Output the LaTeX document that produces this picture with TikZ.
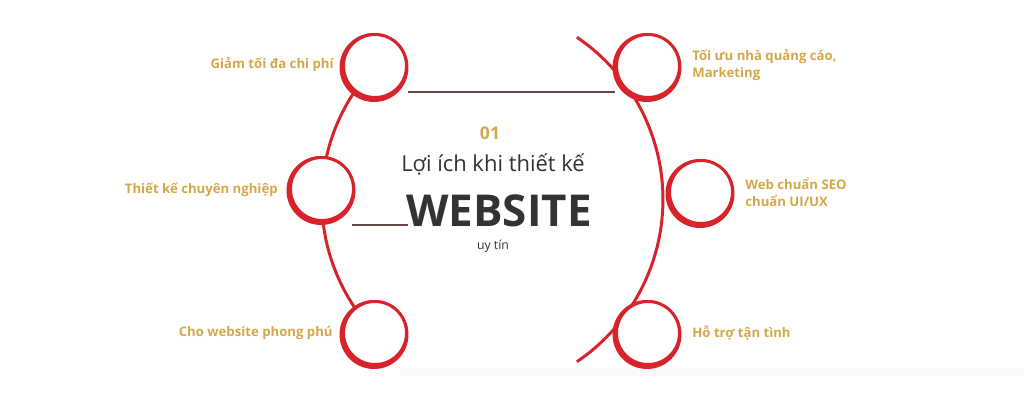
\documentclass[tikz,border=0pt]{standalone}
\usepackage{fontspec}
\setmainfont{Open Sans}
\usetikzlibrary{calc}
\definecolor{ringred}{HTML}{D8232A}
\definecolor{goldtxt}{HTML}{D4A848}
\definecolor{darktxt}{HTML}{333333}
\definecolor{brownline}{HTML}{664646}
\tikzset{
  bub/.style={circle, fill=white, draw=ringred, line width=1.7pt, minimum size=1.26cm, inner sep=0pt},
  ringshadow/.style={fill=ringred},
  arcline/.style={draw=ringred, line width=1.7pt},
  hline/.style={draw=brownline, line width=1.5pt},
  lbl/.style={text=goldtxt, font=\fontsize{7.5}{9.7}\selectfont\bfseries, inner sep=0pt},
  lbll/.style={lbl, anchor=east, align=right},
  lblr/.style={lbl, anchor=west, align=left},
}
\begin{document}
\begin{tikzpicture}[x=0.02cm,y=-0.02cm]
\useasboundingbox (0,0) rectangle (1024,402);
\fill[white] (0,0) rectangle (1024,402);
\fill[gray!4] (400,368) rectangle (1024,376);
% arc centres
\coordinate (lc) at (515.4,199.5);
\coordinate (rc) at (467,199.5);
% node positions
\coordinate (plt) at (375,66);
\coordinate (plm) at (322,189);
\coordinate (plb) at (375,333);
\coordinate (prt) at (648,66);
\coordinate (prm) at (701,192);
\coordinate (prb) at (648,333);
% arcs
\draw[arcline] (lc) ++(136.4:3.874cm) arc[start angle=136.4, end angle=223.6, radius=3.874cm];
\draw[arcline] (rc) ++(55.9:3.92cm) arc[start angle=55.9, end angle=-55.9, radius=3.92cm];
% brown connectors
\coordinate (h1) at (408,92);
\coordinate (h2) at (615,92);
\coordinate (m0) at (352,225);
\coordinate (m1) at (408,225);
\draw[hline] (h1) -- (h2);
\draw[hline] (m0) -- (m1);
% circles with thicker lower-left rim
\foreach \p in {plt,plm,plb,prt,prm,prb}{
  \fill[ringshadow] ($(\p)+(-1,1.5)$) circle (0.69cm);
}
\node[bub] (lt) at (plt) {};
\node[bub] (lm) at (plm) {};
\node[bub] (lb) at (plb) {};
\node[bub] (rt) at (prt) {};
\node[bub] (rm) at (prm) {};
\node[bub] (rb) at (prb) {};
% labels
\node[lbll] (tlt) at (334,65) {Giảm tối đa chi phí};
\node[lbll] (tlm) at (278,190) {Thiết kế chuyên nghiệp};
\node[lbll] (tlb) at (333,333) {Cho website phong phú};
\node[lblr] (trt) at (692,65) {Tối ưu nhà quảng cáo,\\Marketing};
\node[lblr] (trm) at (745,192) {Web chuẩn SEO\\chuẩn UI/UX};
\node[lblr] (trb) at (692,333) {Hỗ trợ tận tình};
% centre text
\node[text=goldtxt, font=\fontsize{10}{12}\selectfont\bfseries, inner sep=0pt] (num) at (490,133) {01};
\node[text=darktxt, font=\fontsize{12.5}{14}\selectfont, inner sep=0pt] (c1) at (493,164) {Lợi ích khi thiết kế};
\node[text=darktxt, font=\fontsize{25}{28}\selectfont\bfseries, inner sep=0pt] (c2) at (499,211) {WEBSITE};
\node[text=darktxt, font=\fontsize{7}{8}\selectfont, inner sep=0pt] (c3) at (493,246) {uy tín};
\end{tikzpicture}
\end{document}
